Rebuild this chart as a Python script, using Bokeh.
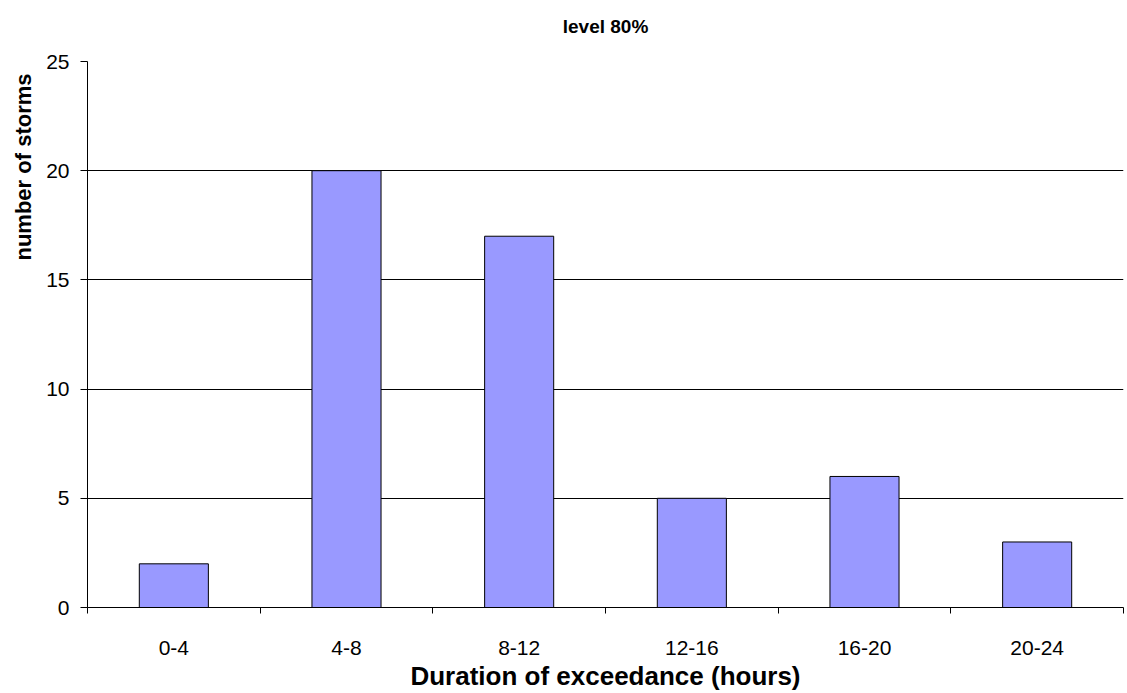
from bokeh.plotting import figure
from bokeh.models import FixedTicker, Title, Range1d
from bokeh.embed import file_html
from bokeh.resources import INLINE

categories = ["0-4", "4-8", "8-12", "12-16", "16-20", "20-24"]
storms = [2, 20, 17, 5, 6, 3]
y_ticks = [0, 5, 10, 15, 20, 25]

centers = [i + 0.5 for i in range(len(categories))]
bounds = list(range(len(categories) + 1))

p = figure(width=1127, height=693, output_backend="svg", toolbar_location=None,
           x_range=Range1d(0, len(categories)), y_range=Range1d(0, 25),
           min_border_left=85, min_border_right=4, min_border_top=60, min_border_bottom=85)

p.vbar(x=centers, top=storms, width=0.4, bottom=0,
       fill_color="#9999FF", line_color="#000000", line_width=1)

FONT = "Liberation Sans"

# spacer between the frame and the title (keeps the title high like the original)
spacer = Title(text=" ", text_font_size="1px", standoff=8)
p.add_layout(spacer, "above")

p.title.text = "level 80%"
p.title.align = "center"
p.title.text_font = FONT
p.title.text_font_size = "19px"
p.title.text_font_style = "bold"
p.title.text_color = "#000000"
p.title.standoff = 27

p.outline_line_color = None
p.background_fill_color = "white"
p.border_fill_color = "white"

# x axis
xa = p.xaxis[0]
xa.ticker = FixedTicker(ticks=centers, minor_ticks=bounds)
xa.major_label_overrides = {c: lab for c, lab in zip(centers, categories)}
xa.major_tick_out = 0
xa.major_tick_in = 0
xa.minor_tick_out = 6
xa.minor_tick_in = 0
xa.minor_tick_line_color = "#000000"
xa.axis_line_color = "#000000"
xa.major_label_text_font = FONT
xa.major_label_text_font_size = "21px"
xa.major_label_text_color = "#000000"
xa.major_label_standoff = 27
xa.axis_label = "Duration of exceedance (hours)"
xa.axis_label_text_font = FONT
xa.axis_label_text_font_size = "26px"
xa.axis_label_text_font_style = "bold"
xa.axis_label_text_color = "#000000"
xa.axis_label_standoff = 3

# y axis
ya = p.yaxis[0]
ya.ticker = FixedTicker(ticks=y_ticks, minor_ticks=[])
ya.major_tick_out = 7
ya.major_tick_in = 0
ya.major_tick_line_color = "#000000"
ya.axis_line_color = "#000000"
ya.major_label_text_font = FONT
ya.major_label_text_font_size = "21px"
ya.major_label_text_color = "#000000"
ya.major_label_standoff = 11

ytitle = Title(text="number of storms", align="right", text_font=FONT,
               text_font_size="22px", text_font_style="bold", text_color="#000000",
               offset=12, standoff=16)
p.add_layout(ytitle, "left")

p.xgrid.grid_line_color = None
p.ygrid.ticker = FixedTicker(ticks=y_ticks[1:])
p.ygrid.grid_line_color = "#000000"
p.ygrid.grid_line_width = 1

open("out.html", "w").write(file_html(p, INLINE))
